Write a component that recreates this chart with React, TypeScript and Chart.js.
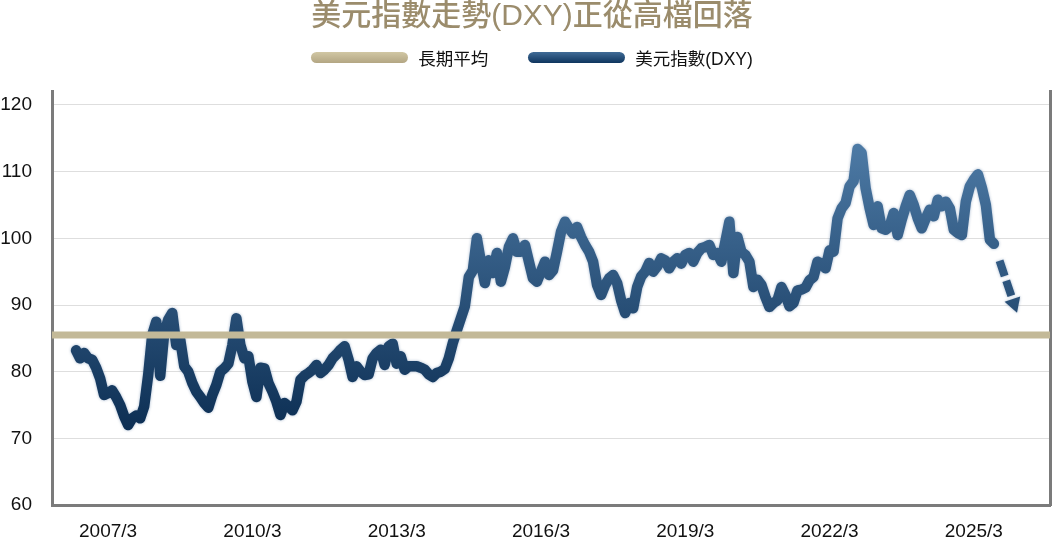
import { useEffect, useRef } from "react";
import { Chart, registerables } from "chart.js";

Chart.register(...registerables);

// monthly categories 2006/1 .. 2026/10
const monthLabels: string[] = [];
for (let y = 2006; y <= 2026; y++) {
  for (let m = 1; m <= 12; m++) {
    if (y === 2026 && m > 10) break;
    monthLabels.push(`${y}/${m}`);
  }
}

const xTickLabels = ["2007/3", "2010/3", "2013/3", "2016/3", "2019/3", "2022/3", "2025/3"];
const yTicks = [60, 70, 80, 90, 100, 110, 120];

const dxyStart = "2006/7";

// DXY, monthly
const dxy2006to2009 = [
  83.2, 82.0, 82.8, 82.0, 81.8, 80.6,
  79.0, 76.5, 76.8, 77.2, 76.2, 75.0, 73.3, 72.0, 73.0, 73.4, 73.0, 74.8,
  79.5, 85.5, 87.5, 79.4, 85.8, 87.8, 88.8, 84.0, 84.8, 80.8, 80.0, 78.3,
  77.0, 76.2, 75.3, 74.6, 76.5, 78.0, 80.0, 80.5, 81.2, 84.0, 88.0, 84.0,
];
const dxy2010to2013 = [
  82.0, 82.3, 78.5, 76.2, 80.6, 80.5, 78.3, 77.0, 75.5, 73.5, 75.3, 74.8,
  74.2, 75.5, 78.8, 79.4, 79.8, 80.3, 81.0, 79.8, 80.3, 81.0, 82.0, 82.6,
  83.3, 83.8, 81.8, 79.2, 80.8, 80.0, 79.5, 79.6, 82.0, 82.8, 83.3, 81.0,
  83.8, 84.2, 81.2, 82.3, 80.3, 80.8, 80.8, 80.8, 80.6, 80.3, 79.6, 79.2,
];
const dxy2014to2017 = [
  79.8, 80.0, 80.4, 82.0, 84.3, 86.2, 88.0, 89.8, 94.2, 95.2, 100.0, 96.5,
  93.3, 96.7, 94.8, 97.8, 93.5, 95.7, 98.7, 100.0, 98.0, 98.0, 99.0, 96.5,
  94.0, 93.5, 95.0, 96.5, 94.5, 95.2, 98.0, 101.0, 102.5, 101.5, 100.7, 101.7,
  100.2, 99.0, 98.0, 96.5, 93.0, 91.5, 93.0, 94.0, 94.5, 93.3, 90.7, 88.8,
];
const dxy2018to2021 = [
  90.3, 89.5, 92.7, 94.3, 95.0, 96.3, 95.0, 95.8, 97.0, 96.7, 95.5, 96.5,
  97.0, 96.2, 97.5, 97.8, 96.5, 97.8, 98.5, 98.7, 99.0, 97.5, 97.8, 96.5,
  99.5, 102.5, 94.8, 100.2, 98.0, 97.5, 96.5, 92.7, 93.8, 93.0, 91.2, 89.7,
  90.3, 90.7, 92.7, 91.5, 89.8, 90.3, 92.2, 92.3, 92.6, 93.7, 94.2, 96.5,
];
const dxy2022to2025 = [
  96.2, 95.5, 98.2, 98.0, 103.0, 104.5, 105.3, 107.8, 108.6, 113.4, 112.8, 107.5,
  104.5, 102.0, 104.8, 101.5, 101.3, 101.8, 103.8, 100.5, 102.8, 104.8, 106.5, 105.0,
  103.0, 101.5, 103.0, 104.3, 103.3, 105.8, 104.8, 105.5, 104.5, 101.3, 100.8, 100.5,
  105.5, 107.8, 108.8, 109.6, 107.6, 105.0, 99.8, 99.2,
];

const longTermAverage = 85.5;

// dashed forecast arrow
const arrowMonths = ["2025/8", "2026/1"];
const arrowValues = [99.2, 90.2];

const dxyValues = [
  ...dxy2006to2009,
  ...dxy2010to2013,
  ...dxy2014to2017,
  ...dxy2018to2021,
  ...dxy2022to2025,
];

const tickFont = "'Liberation Sans', Arial, sans-serif";
const headFont = "'Liberation Sans', Arial, 'Noto Sans CJK TC', sans-serif";

const blueGradient = (c: any) => {
  const { ctx, chartArea, scales } = c.chart;
  if (!chartArea || !scales.y) return "#1d4672";
  const g = ctx.createLinearGradient(
    0,
    scales.y.getPixelForValue(114),
    0,
    scales.y.getPixelForValue(71),
  );
  g.addColorStop(0, "#4d7aa5");
  g.addColorStop(1, "#0c2e53");
  return g;
};

// soft edge on the blue line
const lineGlow = {
  id: "lineGlow",
  beforeDatasetDraw(chart: any, args: any) {
    if (args.index === 0) return;
    const ctx = chart.ctx;
    ctx.save();
    ctx.shadowColor = "rgba(50, 90, 140, 0.45)";
    ctx.shadowBlur = 3;
  },
  afterDatasetDraw(chart: any, args: any) {
    if (args.index === 0) return;
    chart.ctx.restore();
  },
};

const App = () => {
  const canvasRef = useRef<HTMLCanvasElement>(null);

  useEffect(() => {
    if (!canvasRef.current) return;
    const startIdx = monthLabels.indexOf(dxyStart);
    const dxyPoints = dxyValues.map((v, i) => ({ x: monthLabels[startIdx + i], y: v }));
    const avgPoints = [
      { x: monthLabels[0], y: longTermAverage },
      { x: monthLabels[monthLabels.length - 1], y: longTermAverage },
    ];
    const arrowPoints = arrowMonths.map((m, i) => ({ x: m, y: arrowValues[i] }));

    const chart = new Chart(canvasRef.current, {
      type: "line",
      plugins: [lineGlow],
      data: {
        labels: monthLabels,
        datasets: [
          {
            label: "長期平均",
            data: avgPoints as any,
            borderColor: "#c3b998",
            borderWidth: 7,
            borderCapStyle: "butt",
            pointRadius: 0,
          },
          {
            label: "美元指數(DXY)",
            data: dxyPoints as any,
            borderColor: blueGradient,
            borderWidth: 10.5,
            borderJoinStyle: "round",
            borderCapStyle: "round",
            pointRadius: 0,
            tension: 0,
          },
          {
            label: "arrow",
            data: arrowPoints as any,
            borderColor: blueGradient,
            borderWidth: 8,
            borderDash: [0, 18, 16, 5, 16, 60],
            borderCapStyle: "butt",
            pointStyle: "triangle",
            pointRotation: 161,
            pointRadius: (c: any) => (c.dataIndex === arrowPoints.length - 1 ? 9.5 : 0),
            pointBackgroundColor: blueGradient,
            pointBorderWidth: 0,
          },
        ],
      },
      options: {
        animation: false,
        responsive: true,
        maintainAspectRatio: false,
        events: [],
        layout: { autoPadding: false, padding: { top: 91, right: 2, left: 0, bottom: 0 } },
        plugins: {
          legend: { display: false },
          title: { display: false },
          tooltip: { enabled: false },
        },
        scales: {
          x: {
            type: "category",
            offset: false,
            grid: { drawOnChartArea: false, drawTicks: false },
            border: { display: true, color: "#7b7b7b", width: 3 },
            ticks: {
              autoSkip: false,
              maxRotation: 0,
              padding: 15,
              color: "#111",
              font: { size: 19, family: tickFont },
            },
            afterBuildTicks: (axis: any) => {
              axis.ticks = xTickLabels.map((l) => ({ value: monthLabels.indexOf(l) }));
            },
            afterFit: (axis: any) => {
              axis.height = 36;
            },
          },
          y: {
            min: 60,
            max: 122.1,
            grid: { color: "#dedede", lineWidth: 1, drawTicks: false },
            border: { color: "#7b7b7b", width: 3 },
            ticks: {
              padding: 20,
              color: "#111",
              font: { size: 19, family: tickFont },
            },
            afterBuildTicks: (axis: any) => {
              axis.ticks = yTicks.map((v) => ({ value: v }));
            },
            afterFit: (axis: any) => {
              axis.width = 52;
            },
          },
          y2: {
            position: "right",
            grid: { drawOnChartArea: false, drawTicks: false },
            border: { color: "#7b7b7b", width: 3 },
            ticks: { display: false },
            afterFit: (axis: any) => {
              axis.width = 0;
            },
          },
        },
      },
    });

    return () => {
      chart.destroy();
    };
  }, []);

  return (
    <div
      style={{
        position: "fixed",
        left: 0,
        top: 0,
        width: 1052,
        height: 541,
        background: "#fff",
        overflow: "hidden",
      }}
    >
      <div style={{ position: "absolute", left: 0, top: 0, width: 1052, height: 541 }}>
        <canvas ref={canvasRef}></canvas>
      </div>
      <div
        style={{
          position: "absolute",
          left: 12,
          top: 0,
          width: 1040,
          textAlign: "center",
          fontFamily: headFont,
          fontSize: 30,
          fontWeight: 500,
          lineHeight: "30px",
          color: "#9b8c6c",
          whiteSpace: "nowrap",
        }}
      >
        美元指數走勢(DXY)正從高檔回落
      </div>
      <div
        style={{
          position: "absolute",
          left: 12,
          top: 46,
          width: 1040,
          height: 22,
          display: "flex",
          justifyContent: "center",
          alignItems: "center",
          gap: 40,
          fontFamily: headFont,
          fontSize: 17.5,
          color: "#111",
        }}
      >
        <div style={{ display: "flex", alignItems: "center" }}>
          <span
            style={{
              display: "inline-block",
              width: 97,
              height: 11,
              borderRadius: 6,
              background: "linear-gradient(#d1c7a4, #b3a683)",
              marginRight: 10,
            }}
          ></span>
          <span>長期平均</span>
        </div>
        <div style={{ display: "flex", alignItems: "center" }}>
          <span
            style={{
              display: "inline-block",
              width: 97,
              height: 11,
              borderRadius: 6,
              background: "linear-gradient(#416c97, #0f355e)",
              marginRight: 10,
            }}
          ></span>
          <span>美元指數(DXY)</span>
        </div>
      </div>
    </div>
  );
};

export default App;
